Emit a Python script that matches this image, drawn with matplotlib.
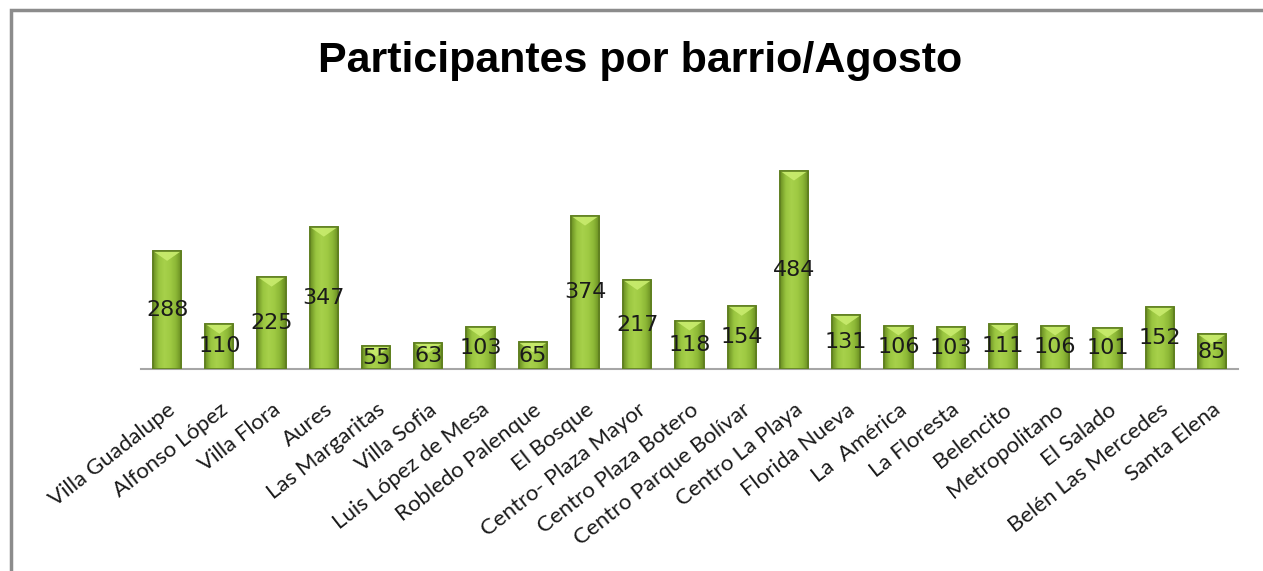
import numpy as np
import matplotlib.pyplot as plt
from matplotlib.patches import Polygon, Rectangle
from matplotlib.colors import LinearSegmentedColormap

barrios = ["Villa Guadalupe", "Alfonso López", "Villa Flora", "Aures", "Las Margaritas",
           "Villa Sofia", "Luis López de Mesa", "Robledo Palenque", "El Bosque",
           "Centro- Plaza Mayor", "Centro Plaza Botero", "Centro Parque Bolívar",
           "Centro La Playa", "Florida Nueva", "La  América", "La Floresta", "Belencito",
           "Metropolitano", "El Salado", "Belén Las Mercedes", "Santa Elena"]
participantes = [288, 110, 225, 347, 55, 63, 103, 65, 374, 217, 118, 154,
                 484, 131, 106, 103, 111, 106, 101, 152, 85]

W, H = 1263, 571
fig = plt.figure(figsize=(W / 100, H / 100), dpi=100)

# marco gris del grafico
frame = Rectangle((11 / W, -0.1), 1.2, (H - 10) / H + 0.1, transform=fig.transFigure,
                  fill=False, edgecolor="#8c8c8c", linewidth=2.5)
fig.add_artist(frame)

fig.text(640 / W, 1 - 61 / H, "Participantes por barrio/Agosto", ha="center", va="center",
         fontsize=31, fontweight="bold", family="Liberation Sans")

ymax = 600
base_px = 369
px_per_unit = 198.3 / 484
top_px = base_px - ymax * px_per_unit
ax = fig.add_axes([141 / W, 1 - base_px / H, (1238 - 141) / W, (base_px - top_px) / H])
ax.set_xlim(-0.5, len(barrios) - 0.5)
ax.set_ylim(0, ymax)

x = np.arange(len(barrios))
width = 0.54
bars = ax.bar(x, participantes, width=width, color="#9cc640", edgecolor="#5f7f20",
              linewidth=1.2, zorder=2)

# sombreado cilindrico
cmap = LinearSegmentedColormap.from_list("verde", ["#6a8e22", "#9ac640", "#a7d14b",
                                                    "#9fca43", "#8cb736", "#678a20"])
grad = np.linspace(0, 1, 64).reshape(1, -1)
bevel = 24
for b, v in zip(bars, participantes):
    x0 = b.get_x()
    im = ax.imshow(grad, cmap=cmap, aspect="auto", extent=(x0, x0 + width, 0, v),
                   zorder=3, interpolation="bicubic")
    im.set_clip_path(b)
    tri = Polygon([(x0, v), (x0 + width, v), (x0 + width * 0.5, v - bevel)],
                  closed=True, facecolor="#c9ec6e", edgecolor="none", alpha=0.9, zorder=4)
    ax.add_patch(tri)
    ax.add_patch(Rectangle((x0, 0), width, v, fill=False, edgecolor="#5f7f20",
                           linewidth=1.2, zorder=5))
    ax.text(b.get_x() + width / 2, v / 2, str(v), ha="center", va="center",
            fontsize=16, color="#1a1a1a", family="DejaVu Sans", zorder=6)

for s in ["top", "right", "left"]:
    ax.spines[s].set_visible(False)
ax.spines["bottom"].set_color("#a6a6a6")
ax.spines["bottom"].set_linewidth(1.5)
ax.spines["bottom"].set_zorder(1)
ax.set_yticks([])
ax.set_xticks(x)
ax.set_xticklabels(barrios, rotation=38, ha="right", rotation_mode="anchor",
                   fontsize=16, family="Lato", color="#1a1a1a")
ax.tick_params(axis="x", length=0, pad=22)
ax.set_facecolor("none")

fig.savefig("out.png", dpi=100)
